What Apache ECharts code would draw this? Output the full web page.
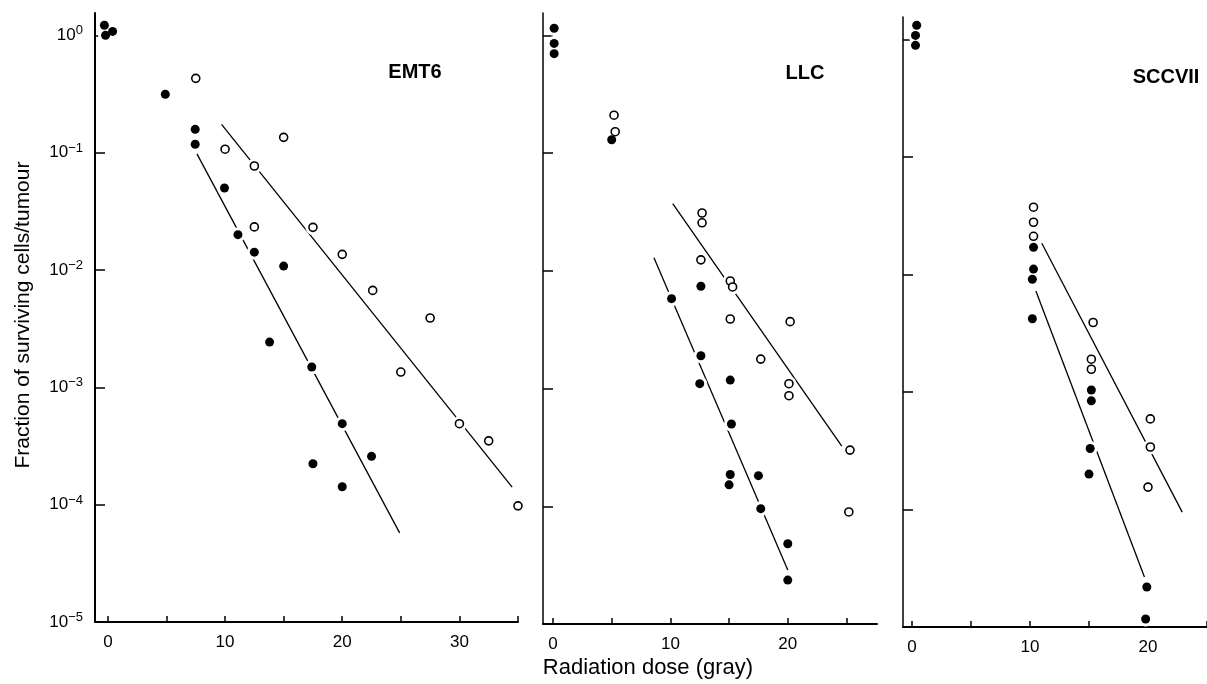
<!DOCTYPE html>
<html>
<head>
<meta charset="utf-8">
<script src="https://cdn.jsdelivr.net/npm/echarts@6/dist/echarts.min.js"></script>
<style>
  html, body { margin: 0; padding: 0; background: #fff; }
  #main { width: 1207px; height: 684px; }
</style>
</head>
<body>
<div id="main"></div>
<script>
// EMT6 - [dose, surviving fraction]
const emt6Filled = [[-0.3, 1.22], [-0.2, 1.0], [0.4, 1.08], [4.9, 0.315], [7.45, 0.158], [7.45, 0.118],
  [9.95, 0.050], [11.1, 0.020], [12.5, 0.0142], [15.0, 0.0108], [13.8, 0.00243], [17.4, 0.00149],
  [20.0, 0.00049], [17.5, 0.000223], [20.0, 0.000142], [22.5, 0.000258]]
const emt6Open = [[7.5, 0.43], [10.0, 0.107], [15.0, 0.135], [12.5, 0.077], [12.5, 0.0233], [17.5, 0.0231],
  [20.0, 0.0136], [22.6, 0.0067], [27.5, 0.0039], [25.0, 0.00135], [30.0, 0.00049], [32.5, 0.00035], [35.0, 0.0000977]]
const emt6FitFilled = [[7.6, 0.0977], [24.9, 0.0000575]]
const emt6FitOpen = [[9.7, 0.174], [34.5, 0.000141]]

// LLC
const llcFilled = [[0.1, 1.15], [0.1, 0.855], [0.1, 0.70], [5.0, 0.13], [10.1, 0.0058], [12.6, 0.0074],
  [12.6, 0.0019], [12.5, 0.0011], [15.1, 0.00118], [15.2, 0.0005], [15.1, 0.000186], [15.0, 0.000152],
  [17.5, 0.000182], [17.7, 0.0000955], [20.0, 0.000048], [20.0, 0.0000236]]
const llcOpen = [[5.2, 0.21], [5.3, 0.152], [12.7, 0.031], [12.7, 0.0256], [12.6, 0.0124], [15.1, 0.0082],
  [15.3, 0.0073], [15.1, 0.0039], [20.2, 0.0037], [17.7, 0.00178], [20.1, 0.0011], [20.1, 0.00087],
  [25.3, 0.0003], [25.2, 0.0000895]]
const llcFitFilled = [[8.6, 0.0129], [20.0, 0.0000288]]
const llcFitOpen = [[10.2, 0.0372], [24.6, 0.000324]]

// SCCVII
const sccFilled = [[0.4, 1.32], [0.3, 1.08], [0.3, 0.89], [10.3, 0.017], [10.3, 0.0111], [10.2, 0.0091],
  [10.2, 0.0042], [15.2, 0.00104], [15.2, 0.00084], [15.1, 0.00033], [15.0, 0.0002], [19.9, 0.0000219],
  [19.8, 0.0000117]]
const sccOpen = [[10.3, 0.0373], [10.3, 0.0278], [10.3, 0.0211], [15.35, 0.0039], [15.2, 0.0019],
  [15.2, 0.00156], [20.2, 0.00059], [20.2, 0.00034], [20.0, 0.000155]]
const sccFitFilled = [[10.5, 0.00724], [19.7, 0.0000266]]
const sccFitOpen = [[11.0, 0.0184], [22.9, 0.000095]]

const xTicks = [0, 5, 10, 15, 20, 25, 30, 35]
const xLabels = [0, 10, 20, 30]
const yTicks = [0.00001, 0.0001, 0.001, 0.01, 0.1, 1]

const panels = [
  { name: 'EMT6', filled: emt6Filled, open: emt6Open, fitF: emt6FitFilled, fitO: emt6FitOpen,
    grid: { left: 95, top: 13, width: 423, height: 609 }, xmin: -1.1, xmax: 35, labels: true },
  { name: 'LLC', filled: llcFilled, open: llcOpen, fitF: llcFitFilled, fitO: llcFitOpen,
    grid: { left: 543, top: 13, width: 334, height: 611 }, xmin: -0.85, xmax: 27.6, labels: false },
  { name: 'SCCVII', filled: sccFilled, open: sccOpen, fitF: sccFitFilled, fitO: sccFitOpen,
    grid: { left: 903, top: 17, width: 304, height: 610 }, xmin: -0.76, xmax: 25.0, labels: false },
]

const font = 'Liberation Sans, Arial, Helvetica, sans-serif'
const myChart = echarts.init(document.getElementById('main'))

const grid = []
const xAxis = []
const yAxis = []
const series = []

panels.forEach((p, i) => {
  grid.push(p.grid)
  xAxis.push({
    type: 'value',
    gridIndex: i,
    min: p.xmin,
    max: p.xmax,
    splitLine: { show: false },
    axisLine: { onZero: false, lineStyle: { color: '#000', width: 2 } },
    axisTick: { inside: true, length: 6, lineStyle: { color: '#000', width: 1.5 },
      customValues: xTicks.filter(v => v <= p.xmax) },
    axisLabel: { color: '#000', fontSize: 17, fontFamily: font, margin: 12,
      customValues: xLabels.filter(v => v <= p.xmax) },
  })
  yAxis.push({
    type: 'log',
    logBase: 10,
    gridIndex: i,
    min: 0.00001,
    max: 1.55,
    splitLine: { show: false },
    axisLine: { onZero: false, lineStyle: { color: '#000', width: i === 0 ? 2 : 1.5 } },
    axisTick: { inside: true, length: 10, lineStyle: { color: '#000', width: 1.5 }, customValues: yTicks },
    axisLabel: {
      show: p.labels,
      customValues: yTicks,
      margin: 12,
      formatter: (v) => {
        const e = Math.round(Math.log10(v))
        return '{b|10}{e|' + (e < 0 ? '\u2212' + (-e) : e) + '}'
      },
      rich: {
        b: { fontSize: 17, fontFamily: font, color: '#000', lineHeight: 22 },
        e: { fontSize: 13, fontFamily: font, color: '#000', verticalAlign: 'top', lineHeight: 12 },
      },
    },
  })
  // fitted lines
  ;[p.fitF, p.fitO].forEach((d) => {
    series.push({
      type: 'line', xAxisIndex: i, yAxisIndex: i, data: d, symbol: 'none', z: 1,
      lineStyle: { color: '#000', width: 1.3 }, silent: true,
    })
  })
  // white halo so lines break around the points
  series.push({
    type: 'scatter', xAxisIndex: i, yAxisIndex: i, data: p.filled.concat(p.open), z: 2,
    symbolSize: 15, itemStyle: { color: '#fff', opacity: 1 }, silent: true,
  })
  series.push({
    type: 'scatter', xAxisIndex: i, yAxisIndex: i, data: p.open, z: 3,
    symbolSize: 8, itemStyle: { color: '#fff', borderColor: '#000', borderWidth: 1.6, opacity: 1 },
  })
  series.push({
    type: 'scatter', xAxisIndex: i, yAxisIndex: i, data: p.filled, z: 3,
    symbolSize: 9, itemStyle: { color: '#000', opacity: 1 },
  })
})

const titleStyle = { fill: '#000', font: 'bold 20px ' + font, textAlign: 'center', textVerticalAlign: 'middle' }

const option = {
  animation: false,
  backgroundColor: '#fff',
  grid,
  xAxis,
  yAxis,
  series,
  graphic: [
    { type: 'text', x: 415, y: 72, style: Object.assign({ text: 'EMT6' }, titleStyle) },
    { type: 'text', x: 805, y: 73, style: Object.assign({ text: 'LLC' }, titleStyle) },
    { type: 'text', x: 1166, y: 77, style: Object.assign({ text: 'SCCVII' }, titleStyle) },
    { type: 'text', x: 23, y: 315, rotation: Math.PI / 2,
      style: { text: 'Fraction of surviving cells/tumour', fill: '#000', font: '21px ' + font,
        textAlign: 'center', textVerticalAlign: 'middle' } },
    { type: 'text', x: 648, y: 668,
      style: { text: 'Radiation dose (gray)', fill: '#000', font: '22px ' + font,
        textAlign: 'center', textVerticalAlign: 'middle' } },
  ],
}

option && myChart.setOption(option)
</script>
</body>
</html>
